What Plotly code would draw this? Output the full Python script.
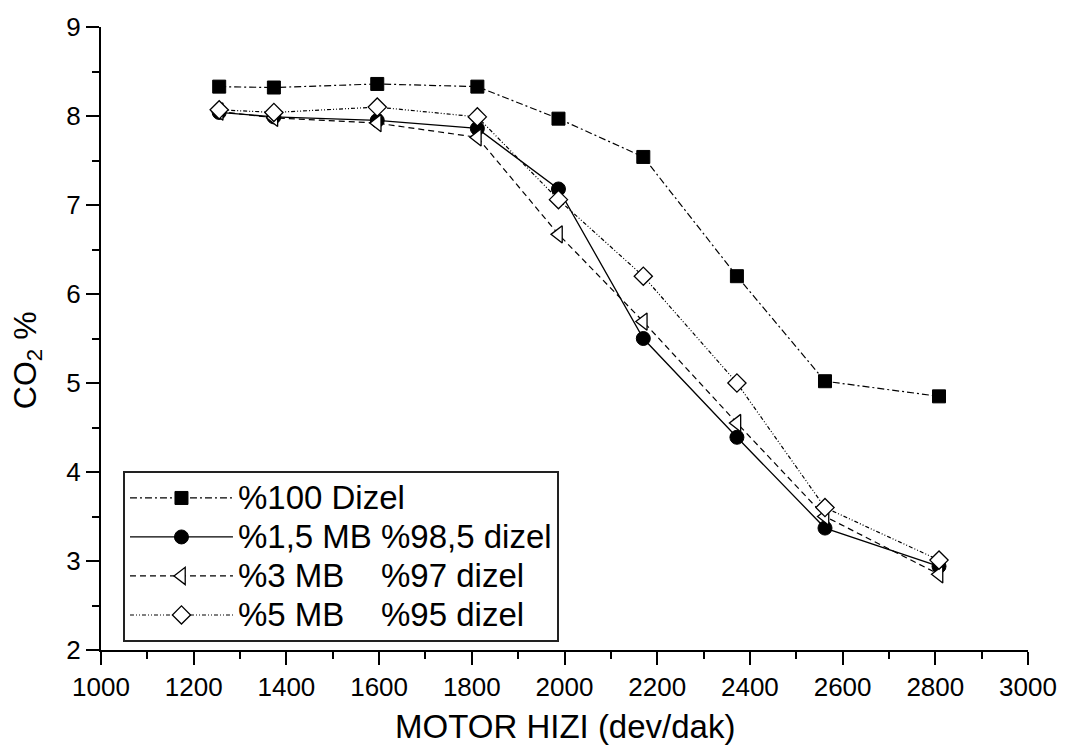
import plotly.graph_objects as go

# Engine speed (rpm) at each measurement point
speed = [1255, 1373, 1596, 1812, 1987, 2170, 2372, 2562, 2808]

# CO2 (%) for each fuel blend
co2_dizel100 = [8.33, 8.32, 8.36, 8.33, 7.97, 7.54, 6.20, 5.02, 4.85]
co2_mb1_5 = [8.04, 7.99, 7.95, 7.86, 7.18, 5.50, 4.39, 3.37, 2.94]
co2_mb3 = [8.05, 7.98, 7.92, 7.76, 6.67, 5.69, 4.55, 3.50, 2.85]
co2_mb5 = [8.07, 8.04, 8.10, 7.99, 7.06, 6.20, 5.00, 3.60, 3.01]

series_names = [
    "%100 Dizel",
    "%1,5 MB %98,5 dizel",
    "%3 MB\u00a0\u00a0\u00a0\u00a0%97 dizel",
    "%5 MB\u00a0\u00a0\u00a0\u00a0%95 dizel",
]

x_ticks = list(range(1000, 3001, 200))
y_ticks = list(range(2, 10))

FONT = "Liberation Sans, Arial, sans-serif"
BLACK = "#000000"


def legend_label(name):
    # larger glyphs than the legend's row pitch font
    return '<span style="font-size:33px">' + name + "</span>"


fig = go.Figure()

fig.add_trace(go.Scatter(
    x=speed, y=co2_dizel100, name=legend_label(series_names[0]), mode="lines+markers",
    line=dict(color=BLACK, width=1.2, dash="7px,3px,2px,3px"),
    marker=dict(symbol="square", size=13, color=BLACK, line=dict(color=BLACK, width=1)),
))
fig.add_trace(go.Scatter(
    x=speed, y=co2_mb1_5, name=legend_label(series_names[1]), mode="lines+markers",
    line=dict(color=BLACK, width=1.3, dash="solid"),
    marker=dict(symbol="circle", size=14, color=BLACK, line=dict(color=BLACK, width=1)),
))
fig.add_trace(go.Scatter(
    x=speed, y=co2_mb3, name=legend_label(series_names[2]), mode="lines+markers",
    line=dict(color=BLACK, width=1.2, dash="6px,4px"),
    marker=dict(symbol="triangle-left", size=15, color="white", line=dict(color=BLACK, width=1.3)),
))
fig.add_trace(go.Scatter(
    x=speed, y=co2_mb5, name=legend_label(series_names[3]), mode="lines+markers",
    line=dict(color=BLACK, width=1.2, dash="4px,2px,1px,2px,1px,2px"),
    marker=dict(symbol="diamond", size=14, color="white", line=dict(color=BLACK, width=1.3)),
))

axis_common = dict(
    showline=True, linecolor=BLACK, linewidth=2,
    showgrid=False, zeroline=False,
    tickcolor=BLACK, tickwidth=2,
    tickfont=dict(family=FONT, size=26, color=BLACK),
)

fig.update_layout(
    width=1069, height=755,
    margin=dict(l=101, r=39, t=15, b=105),
    paper_bgcolor="white", plot_bgcolor="white",
    font=dict(family=FONT, color=BLACK),
    showlegend=True,
    xaxis=dict(
        range=[1000, 3000], tickvals=x_ticks, ticks="outside", ticklen=13,
        minor=dict(dtick=100, ticks="outside", ticklen=7, tickwidth=2, tickcolor=BLACK),
        **axis_common,
    ),
    yaxis=dict(
        range=[2, 9], tickvals=y_ticks, ticks="outside", ticklen=13,
        minor=dict(dtick=0.5, ticks="outside", ticklen=7, tickwidth=2, tickcolor=BLACK),
        **axis_common,
    ),
    xaxis2=dict(
        overlaying="x", side="top", anchor="y", range=[1000, 3000],
        tickvals=x_ticks, ticks="inside", ticklen=7, showticklabels=False,
        minor=dict(dtick=100, ticks="inside", ticklen=5, tickwidth=2, tickcolor=BLACK),
        **axis_common,
    ),
    yaxis2=dict(
        overlaying="y", side="right", anchor="x", range=[2, 9],
        tickvals=y_ticks, ticks="inside", ticklen=7, showticklabels=False,
        minor=dict(dtick=0.5, ticks="inside", ticklen=5, tickwidth=2, tickcolor=BLACK),
        **axis_common,
    ),
    legend=dict(
        x=0.0237, y=0.2866, xanchor="left", yanchor="top",
        bgcolor="white", bordercolor="#222222", borderwidth=2,
        font=dict(family=FONT, size=27.7, color=BLACK),
        itemwidth=103,
        traceorder="normal",
    ),
    annotations=[
        dict(
            text="MOTOR HIZI (dev/dak)", xref="paper", yref="paper",
            x=0.5, y=-0.1228, xanchor="center", yanchor="middle",
            showarrow=False, font=dict(family=FONT, size=33, color=BLACK),
        ),
        dict(
            text="CO<sub>2</sub> %", xref="paper", yref="paper",
            x=-0.08, y=0.465, xanchor="center", yanchor="middle",
            textangle=-90, showarrow=False,
            font=dict(family=FONT, size=32, color=BLACK),
        ),
    ],
)

fig.write_html("out.html")
